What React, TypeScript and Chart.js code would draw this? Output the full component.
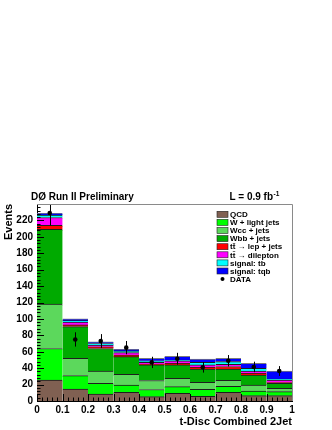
import { useEffect, useRef } from 'react';
import { Chart, registerables } from 'chart.js';

Chart.register(...registerables);

// Bin centres of the t-Disc distribution (bins of width 0.1)
const binCenters = [0.05, 0.15, 0.25, 0.35, 0.45, 0.55, 0.65, 0.75, 0.85, 0.95];

// Stacked background / signal contributions (events per bin)
const qcd = [25.6, 14.6, 8.5, 10.6, 5.3, 9.4, 5.7, 10.6, 6.5, 6.5];
const wLight = [38.4, 16.4, 13.0, 8.9, 8.7, 8.1, 8.5, 7.4, 5.7, 4.9];
const wcc = [54.0, 21.0, 15.1, 13.0, 11.0, 10.2, 8.6, 7.2, 7.3, 4.1];
const wbb = [91.0, 38.7, 27.4, 21.5, 19.0, 16.3, 16.2, 13.8, 12.2, 6.1];
const ttLep = [5.0, 2.0, 2.0, 2.0, 1.0, 2.0, 2.0, 3.0, 2.1, 0.8];
const ttDil = [9.6, 3.3, 2.0, 3.0, 2.0, 3.0, 3.0, 2.7, 2.8, 3.2];
const sigTb = [3.0, 2.0, 2.0, 2.0, 2.0, 1.0, 3.0, 3.3, 3.3, 1.2];
const sigTqb = [2.0, 2.0, 2.0, 2.0, 3.0, 4.5, 4.0, 4.0, 6.1, 9.8];

// Observed data with statistical errors
const dataValues = [229, 75, 73, 65, 47, 51.5, 41, 49, 41.5, 36.5];
const dataErrors = [15.1, 8.7, 8.5, 8.1, 6.9, 7.2, 6.4, 7.0, 6.4, 6.0];

const legendLabels = [
  'QCD',
  'W + light jets',
  'Wcc + jets',
  'Wbb + jets',
  'tt\u0304 \u2192 lep + jets',
  'tt\u0304 \u2192 dilepton',
  'signal: tb',
  'signal: tqb',
  'DATA',
];

const FONT = "'Liberation Sans', Arial, Helvetica, sans-serif";

const colors = ['#806052', '#00ff00', '#5cd85c', '#00aa00', '#ff0000', '#ff00ff', '#00ffff', '#0000ff'];
const series = [qcd, wLight, wcc, wbb, ttLep, ttDil, sigTb, sigTqb];

const decorPlugin = {
  id: 'decor',
  afterDatasetsDraw(chart: any) {
    const { ctx, chartArea, scales } = chart;
    const xs = scales.x;
    const ys = scales.y;
    ctx.save();
    // error bars
    ctx.beginPath();
    ctx.rect(chartArea.left, chartArea.top, chartArea.right - chartArea.left, chartArea.bottom - chartArea.top);
    ctx.clip();
    ctx.strokeStyle = '#000';
    ctx.lineWidth = 1;
    binCenters.forEach((x, i) => {
      const px = Math.round(xs.getPixelForValue(x)) + 0.5;
      ctx.beginPath();
      ctx.moveTo(px, ys.getPixelForValue(dataValues[i] - dataErrors[i]));
      ctx.lineTo(px, ys.getPixelForValue(dataValues[i] + dataErrors[i]));
      ctx.stroke();
    });
    ctx.restore();

    ctx.save();
    ctx.strokeStyle = '#000';
    ctx.lineWidth = 1;
    // y ticks (inward)
    for (let v = 0; v <= 240; v += 4) {
      const py = Math.round(ys.getPixelForValue(v)) + 0.5;
      const len = v % 20 === 0 ? 7 : 3.5;
      ctx.beginPath();
      ctx.moveTo(chartArea.left, py);
      ctx.lineTo(chartArea.left + len, py);
      ctx.stroke();
    }
    // x ticks (inward)
    for (let k = 0; k <= 50; k++) {
      const v = k / 50;
      const px = Math.round(xs.getPixelForValue(v)) + 0.5;
      const len = k % 5 === 0 ? 7 : 3.5;
      ctx.beginPath();
      ctx.moveTo(px, chartArea.bottom);
      ctx.lineTo(px, chartArea.bottom - len);
      ctx.stroke();
    }
    // top and right frame
    ctx.strokeStyle = '#8a8a8a';
    ctx.beginPath();
    ctx.moveTo(chartArea.left, Math.round(chartArea.top) + 0.5);
    ctx.lineTo(Math.round(chartArea.right) + 0.5, Math.round(chartArea.top) + 0.5);
    ctx.lineTo(Math.round(chartArea.right) + 0.5, chartArea.bottom);
    ctx.stroke();
    ctx.restore();
  },
  afterDraw(chart: any) {
    const { ctx, chartArea } = chart;
    ctx.save();
    ctx.fillStyle = '#000';
    ctx.textBaseline = 'alphabetic';
    ctx.textAlign = 'left';
    ctx.font = `bold 10px ${FONT}`;
    ctx.fillText('D\u00d8 Run II Preliminary', 31, 200);
    ctx.textAlign = 'right';
    ctx.fillText('L = 0.9 fb', 273, 200);
    ctx.textAlign = 'left';
    ctx.font = `bold 6.5px ${FONT}`;
    ctx.fillText('-1', 273.5, 195.5);

    // legend
    const x0 = chartArea.right - 75;
    legendLabels.forEach((label, i) => {
      const cy = 214.3 + i * 8.1;
      if (i < colors.length) {
        ctx.fillStyle = colors[i];
        ctx.fillRect(x0, cy - 3, 11, 6);
        ctx.strokeStyle = '#222';
        ctx.lineWidth = 0.6;
        ctx.strokeRect(x0, cy - 3, 11, 6);
      } else {
        ctx.fillStyle = '#000';
        ctx.beginPath();
        ctx.arc(x0 + 5.5, cy, 2, 0, Math.PI * 2);
        ctx.fill();
      }
      ctx.fillStyle = '#000';
      ctx.font = `bold 8px ${FONT}`;
      ctx.textBaseline = 'middle';
      ctx.fillText(label, x0 + 13, cy + 0.5);
    });
    ctx.restore();
  },
};

export default function App() {
  const ref = useRef<HTMLCanvasElement>(null);

  useEffect(() => {
    if (!ref.current) return;
    const barSets = series.map((vals, i) => ({
      type: 'bar' as const,
      label: legendLabels[i],
      data: binCenters.map((x, j) => ({ x, y: vals[j] })),
      backgroundColor: colors[i],
      borderColor: i === series.length - 1 ? '#7a7a7a' : '#1e1e1e',
      borderWidth: { top: 1, left: 0, right: 0, bottom: 0 },
      borderSkipped: false,
      barPercentage: 1,
      categoryPercentage: 1,
      stack: 'mc',
    }));
    const chart = new Chart(ref.current, {
      type: 'bar',
      data: {
        datasets: [
          {
            type: 'line' as const,
            label: 'DATA',
            data: binCenters.map((x, j) => ({ x, y: dataValues[j] })),
            showLine: false,
            pointRadius: 2.3,
            pointBackgroundColor: '#000',
            pointBorderColor: '#000',
            pointBorderWidth: 0,
            stack: 'data',
          } as any,
          ...barSets,
        ],
      },
      options: {
        animation: false,
        responsive: false,
        maintainAspectRatio: false,
        layout: { padding: { top: 204, right: 40, left: 0, bottom: 0 } },
        plugins: {
          legend: { display: false },
          tooltip: { enabled: false },
          title: { display: false },
        },
        scales: {
          x: {
            type: 'linear',
            min: 0,
            max: 1,
            offset: false,
            stacked: true,
            grid: { display: false, drawTicks: false },
            border: { display: true, color: '#000', width: 1 },
            ticks: {
              stepSize: 0.1,
              autoSkip: false,
              maxRotation: 0,
              padding: 3,
              color: '#000',
              font: { family: FONT, size: 10, weight: 'bold' },
              callback: (v: any) => {
                const n = Number(v);
                if (Math.abs(n) < 1e-9) return '0';
                if (Math.abs(n - 1) < 1e-9) return '1';
                return n.toFixed(1);
              },
            },
            title: {
              display: true,
              text: 't-Disc Combined 2Jet',
              align: 'end',
              color: '#000',
              font: { family: FONT, size: 11, weight: 'bold' },
              padding: { top: 0, bottom: 1 },
            },
            afterFit: (s: any) => {
              s.height = 29;
            },
          },
          y: {
            min: 0,
            max: 240,
            stacked: true,
            grid: { display: false, drawTicks: false },
            border: { display: true, color: '#000', width: 1 },
            ticks: {
              stepSize: 20,
              padding: 4,
              color: '#000',
              font: { family: FONT, size: 10, weight: 'bold' },
              callback: (v: any) => (Number(v) >= 240 ? null : String(v)),
            },
            title: {
              display: true,
              text: 'Events',
              align: 'end',
              color: '#000',
              font: { family: FONT, size: 11, weight: 'bold' },
              padding: { top: 2, bottom: 0 },
            },
            afterFit: (s: any) => {
              s.width = 37;
            },
          },
        },
      } as any,
      plugins: [decorPlugin],
    });
    return () => chart.destroy();
  }, []);

  return (
    <div style={{ position: 'fixed', left: 0, top: 0, width: 332, height: 430, background: '#fff' }}>
      <canvas ref={ref} width={332} height={430} style={{ display: 'block', width: 332, height: 430 }} />
    </div>
  );
}
